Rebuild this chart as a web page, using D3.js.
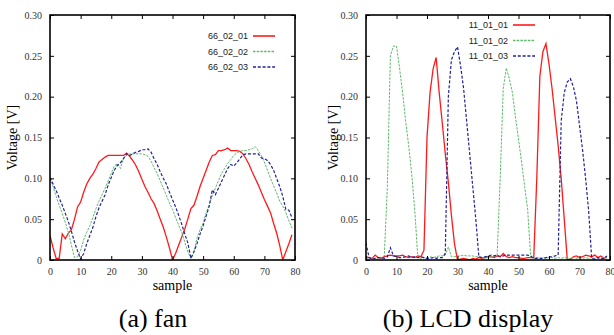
<!DOCTYPE html>
<html><head><meta charset="utf-8">
<script src="https://cdn.jsdelivr.net/npm/d3@7"></script>
<style>body{margin:0;background:#fff}svg{display:block}</style>
</head><body>
<svg id="c" width="614" height="335"></svg>
<script>
// ---- data ----
const xTicks = [0,10,20,30,40,50,60,70,80];
const yTicks = [0,0.05,0.10,0.15,0.20,0.25,0.30];
const yTickLabels = ["0","0.05","0.10","0.15","0.20","0.25","0.30"];

const fanNames = ["66_02_01","66_02_02","66_02_03"];
const fan01 = [0.030,0.015,0.002,0.002,0.032,0.026,0.033,0.037,0.050,0.065,0.071,0.083,0.093,0.100,0.105,0.112,0.120,0.123,0.126,0.128,
0.128,0.128,0.128,0.128,0.128,0.131,0.127,0.122,0.116,0.108,0.099,0.090,0.083,0.075,0.069,0.060,0.050,0.040,0.028,0.015,
0.000,0.008,0.018,0.028,0.038,0.050,0.063,0.067,0.078,0.090,0.100,0.110,0.120,0.128,0.129,0.134,0.134,0.135,0.137,0.134,
0.134,0.134,0.133,0.130,0.124,0.117,0.108,0.100,0.092,0.083,0.074,0.066,0.058,0.045,0.033,0.018,0.000,0.010,0.020,0.031];
const fan02 = [0.100,0.090,0.078,0.067,0.057,0.046,0.034,0.018,0.003,0.004,0.012,0.025,0.034,0.042,0.052,0.063,0.072,0.080,0.088,0.097,
0.106,0.115,0.118,0.112,0.125,0.128,0.130,0.130,0.130,0.130,0.130,0.129,0.127,0.121,0.113,0.106,0.097,0.088,0.079,0.070,
0.062,0.052,0.043,0.034,0.022,0.010,0.002,0.010,0.027,0.037,0.045,0.058,0.068,0.079,0.088,0.097,0.106,0.112,0.118,0.123,
0.128,0.131,0.133,0.134,0.134,0.135,0.136,0.139,0.134,0.128,0.120,0.110,0.100,0.091,0.082,0.072,0.066,0.058,0.048,0.039];
const fan03 = [0.101,0.093,0.085,0.076,0.067,0.057,0.047,0.035,0.022,0.011,0.001,0.008,0.020,0.030,0.040,0.053,0.064,0.072,0.080,0.092,
0.101,0.110,0.116,0.119,0.124,0.130,0.128,0.130,0.132,0.133,0.135,0.135,0.136,0.132,0.124,0.117,0.108,0.100,0.093,0.083,
0.074,0.065,0.055,0.044,0.032,0.021,0.002,0.010,0.020,0.032,0.042,0.054,0.066,0.086,0.080,0.088,0.096,0.104,0.112,0.117,
0.115,0.119,0.124,0.129,0.130,0.130,0.130,0.130,0.130,0.125,0.124,0.122,0.117,0.110,0.100,0.090,0.078,0.062,0.061,0.052];

const lcdNames = ["11_01_01","11_01_02","11_01_03"];
const lcd01 = [0.004,0.003,0.002,0.006,0.003,0.002,0.004,0.005,0.006,0.005,0.005,0.005,0.006,0.004,0.003,0.004,0.003,0.005,0.004,0.012,
0.150,0.205,0.234,0.248,0.205,0.168,0.130,0.095,0.055,0.020,0.000,0.001,0.002,0.001,0.000,0.002,0.001,0.003,0.002,0.003,
0.004,0.004,0.003,0.005,0.004,0.008,0.004,0.003,0.004,0.003,0.003,0.002,0.002,0.003,0.003,0.003,0.100,0.225,0.255,0.265,
0.240,0.210,0.175,0.140,0.100,0.050,0.000,0.001,0.004,0.005,0.003,0.004,0.006,0.005,0.004,0.006,0.003,0.005,0.002,0.004];
const lcd02 = [0.002,0.001,0.003,0.002,0.001,0.003,0.005,0.090,0.250,0.262,0.262,0.235,0.205,0.170,0.140,0.105,0.060,0.003,0.002,0.003,
0.002,0.004,0.003,0.004,0.005,0.005,0.006,0.016,0.004,0.004,0.005,0.005,0.006,0.005,0.005,0.005,0.004,0.004,0.003,0.002,
0.003,0.004,0.004,0.006,0.100,0.210,0.235,0.222,0.205,0.175,0.148,0.120,0.090,0.062,0.003,0.002,0.003,0.002,0.003,0.002,
0.003,0.003,0.002,0.003,0.002,0.003,0.002,0.002,0.003,0.002,0.003,0.002,0.003,0.002,0.003,0.002,0.003,0.002,0.003,0.002];
const lcd03 = [0.021,0.003,0.001,0.002,0.003,0.003,0.002,0.004,0.015,0.005,0.004,0.003,0.003,0.004,0.005,0.003,0.004,0.003,0.004,0.003,
0.002,0.002,0.003,0.002,0.003,0.003,0.008,0.200,0.245,0.255,0.261,0.238,0.210,0.170,0.130,0.090,0.050,0.004,0.003,0.004,
0.005,0.006,0.005,0.006,0.004,0.005,0.006,0.006,0.006,0.006,0.006,0.006,0.006,0.006,0.005,0.002,0.002,0.002,0.002,0.003,
0.004,0.004,0.005,0.006,0.170,0.205,0.218,0.222,0.212,0.195,0.165,0.135,0.100,0.060,0.002,0.001,0.003,0.001,0.002,0.005];

const captions = ["(a) fan","(b) LCD display"];
const xTitle = "sample", yTitle = "Voltage [V]";

// ---- styles ----
const styles = [
  {color:"#ff1a1a", dash:null, w:1.3},
  {color:"#5dbb6a", dash:"2.5,1.2", w:1.0},
  {color:"#22229a", dash:"3,1.8", w:1.2}
];

const svg = d3.select("#c");

function panel(cfg){
  const {left,right,top,bottom,series,names,legend,caption,capX,yTitleX} = cfg;
  const x = d3.scaleLinear().domain([0,80]).range([left,right]);
  const y = d3.scaleLinear().domain([0,0.30]).range([bottom,top]);
  const g = svg.append("g");
  const clipId = "clip"+left;
  svg.append("clipPath").attr("id",clipId).append("rect")
    .attr("x",left).attr("y",top).attr("width",right-left).attr("height",bottom-top);

  const line = d3.line().x((d,i)=>x(i)).y(d=>y(d));
  series.forEach((s,k)=>{
    g.append("path").attr("d",line(s)).attr("fill","none")
      .attr("clip-path",`url(#${clipId})`)
      .attr("stroke",styles[k].color).attr("stroke-width",styles[k].w)
      .attr("stroke-dasharray",styles[k].dash);
  });

  // axes with inward ticks on all sides
  const tf = (d,i)=>yTickLabels[i];
  const axB = g.append("g").attr("transform",`translate(0,${bottom})`)
    .call(d3.axisBottom(x).tickValues(xTicks).tickSize(-4).tickPadding(8).tickFormat(d3.format("d")));
  const axT = g.append("g").attr("transform",`translate(0,${top})`)
    .call(d3.axisTop(x).tickValues(xTicks).tickSize(-4).tickFormat(""));
  const axL = g.append("g").attr("transform",`translate(${left},0)`)
    .call(d3.axisLeft(y).tickValues(yTicks).tickSize(-4).tickPadding(8).tickFormat(tf));
  const axR = g.append("g").attr("transform",`translate(${right},0)`)
    .call(d3.axisRight(y).tickValues(yTicks).tickSize(-4).tickFormat(""));
  [axB,axT,axL,axR].forEach(a=>{
    a.select(".domain").remove();
    a.selectAll("line").attr("stroke","#000").attr("stroke-width",1);
    a.selectAll("text").attr("font-family","'Liberation Serif','Times New Roman',serif")
      .attr("font-size",10).attr("fill","#333");
  });
  g.append("rect").attr("x",left).attr("y",top).attr("width",right-left).attr("height",bottom-top)
    .attr("fill","none").attr("stroke","#000").attr("stroke-width",1.6);

  // titles
  g.append("text").attr("x",(left+right)/2).attr("y",bottom+30).attr("text-anchor","middle")
    .attr("font-family","'Liberation Serif',serif").attr("font-size",14).text(xTitle);
  g.append("text").attr("transform",`translate(${yTitleX},${(top+bottom)/2}) rotate(-90)`)
    .attr("text-anchor","middle").attr("font-family","'Liberation Serif',serif").attr("font-size",14).text(yTitle);

  // legend
  names.forEach((n,k)=>{
    const yy = legend.y0 + k*legend.dy;
    g.append("text").attr("x",legend.tx).attr("y",yy+3).attr("text-anchor","end")
      .attr("font-family","'Liberation Sans',Arial,sans-serif").attr("font-size",9).attr("fill","#222").text(n);
    g.append("line").attr("x1",legend.l1).attr("x2",legend.l2).attr("y1",yy).attr("y2",yy)
      .attr("stroke",styles[k].color).attr("stroke-width",styles[k].w+0.3)
      .attr("stroke-dasharray",styles[k].dash);
  });

  svg.append("text").attr("x",capX).attr("y",327).attr("text-anchor","middle")
    .attr("font-family","'Liberation Serif',serif").attr("font-size",26).text(caption);
}

panel({left:50,right:295,top:15,bottom:260,series:[fan01,fan02,fan03],names:fanNames,
  legend:{y0:36,dy:15.5,tx:248,l1:253,l2:275},caption:captions[0],capX:153,yTitleX:17});
panel({left:366,right:610,top:15,bottom:260,series:[lcd01,lcd02,lcd03],names:lcdNames,
  legend:{y0:25,dy:15.5,tx:508,l1:513,l2:535},caption:captions[1],capX:468,yTitleX:338});
</script>
</body></html>
